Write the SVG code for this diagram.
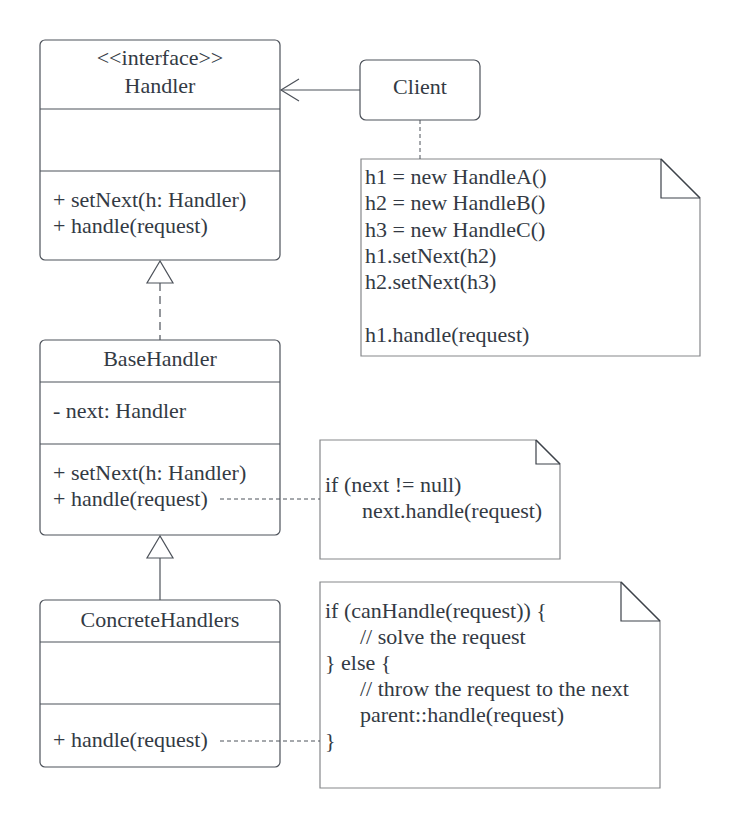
<svg xmlns="http://www.w3.org/2000/svg" width="740" height="818" viewBox="0 0 740 818">
<style>
.box{fill:#fff;stroke:#4d525a;stroke-width:1.2}
.div{stroke:#4d525a;stroke-width:1.2}
.note{fill:#fff;stroke:#85878a;stroke-width:1.2}
.fold{fill:none;stroke:#3d424a;stroke-width:1.2}
.t{font-family:"Liberation Serif","Times New Roman",serif;font-size:22px;fill:#333a44}
.c{text-anchor:middle}
.ln{fill:none;stroke:#4d525a;stroke-width:1.2}
.dash{fill:none;stroke:#4d525a;stroke-width:1;stroke-dasharray:4,3}
.dash2{fill:none;stroke:#4d525a;stroke-width:1.2;stroke-dasharray:8,5}
.tri{fill:#fff;stroke:#4d525a;stroke-width:1.2}
</style>
<rect width="740" height="818" fill="#fff"/>
<g id="handler">
  <rect class="box" x="40" y="40" width="240" height="220" rx="5"/>
  <line class="div" x1="40" y1="109" x2="280" y2="109"/>
  <line class="div" x1="40" y1="171" x2="280" y2="171"/>
  <text class="t c" x="160" y="65">&lt;&lt;interface&gt;&gt;</text>
  <text class="t c" x="160" y="93">Handler</text>
  <text class="t" x="53" y="207">+ setNext(h: Handler)</text>
  <text class="t" x="53" y="233">+ handle(request)</text>
</g>
<g id="client">
  <rect class="box" x="360" y="60" width="120" height="60" rx="6"/>
  <text class="t c" x="420" y="94">Client</text>
</g>
<g id="note1">
  <path class="note" d="M361,159 H661 L700,198 V356 H361 Z"/>
  <polyline class="fold" points="661,159 661,198 700,198"/>
  <line class="fold" x1="661" y1="159" x2="700" y2="198"/>
  <text class="t" x="365" y="184">h1 = new HandleA()</text>
  <text class="t" x="365" y="210">h2 = new HandleB()</text>
  <text class="t" x="365" y="236.5">h3 = new HandleC()</text>
  <text class="t" x="365" y="263">h1.setNext(h2)</text>
  <text class="t" x="365" y="289">h2.setNext(h3)</text>
  <text class="t" x="365" y="342">h1.handle(request)</text>
</g>
<g id="basehandler">
  <rect class="box" x="40" y="340" width="240" height="195" rx="5"/>
  <line class="div" x1="40" y1="382" x2="280" y2="382"/>
  <line class="div" x1="40" y1="444" x2="280" y2="444"/>
  <text class="t c" x="160" y="366">BaseHandler</text>
  <text class="t" x="53" y="418">- next: Handler</text>
  <text class="t" x="53" y="480">+ setNext(h: Handler)</text>
  <text class="t" x="53" y="506">+ handle(request)</text>
</g>
<g id="note2">
  <path class="note" d="M320,440 H536 L560,464 V559 H320 Z"/>
  <polyline class="fold" points="536,440 536,464 560,464"/>
  <line class="fold" x1="536" y1="440" x2="560" y2="464"/>
  <text class="t" x="325" y="492">if (next != null)</text>
  <text class="t" x="362" y="518">next.handle(request)</text>
</g>
<g id="concretehandlers">
  <rect class="box" x="40" y="600" width="240" height="167" rx="5"/>
  <line class="div" x1="40" y1="642" x2="280" y2="642"/>
  <line class="div" x1="40" y1="704" x2="280" y2="704"/>
  <text class="t c" x="160" y="627">ConcreteHandlers</text>
  <text class="t" x="53" y="747">+ handle(request)</text>
</g>
<g id="note3">
  <path class="note" d="M320,582 H621 L660,621 V788 H320 Z"/>
  <polyline class="fold" points="621,582 621,621 660,621"/>
  <line class="fold" x1="621" y1="582" x2="660" y2="621"/>
  <text class="t" x="325" y="618">if (canHandle(request)) {</text>
  <text class="t" x="360" y="644">// solve the request</text>
  <text class="t" x="325" y="670">} else {</text>
  <text class="t" x="360" y="696">// throw the request to the next</text>
  <text class="t" x="360" y="722">parent::handle(request)</text>
  <text class="t" x="325" y="748">}</text>
</g>
<g id="connectors">
  <line class="ln" x1="360" y1="90" x2="281" y2="90"/>
  <polyline class="ln" points="299,79 281,90 299,101"/>
  <line class="dash" x1="420" y1="120" x2="420" y2="159"/>
  <line class="dash2" x1="160" y1="283" x2="160" y2="340"/>
  <polygon class="tri" points="160,261 147,283 173,283"/>
  <line class="ln" x1="160" y1="558" x2="160" y2="600"/>
  <polygon class="tri" points="160,536 147,558 173,558"/>
  <line class="dash" x1="220" y1="499" x2="320" y2="499"/>
  <line class="dash" x1="220" y1="741" x2="320" y2="741"/>
</g>
</svg>
